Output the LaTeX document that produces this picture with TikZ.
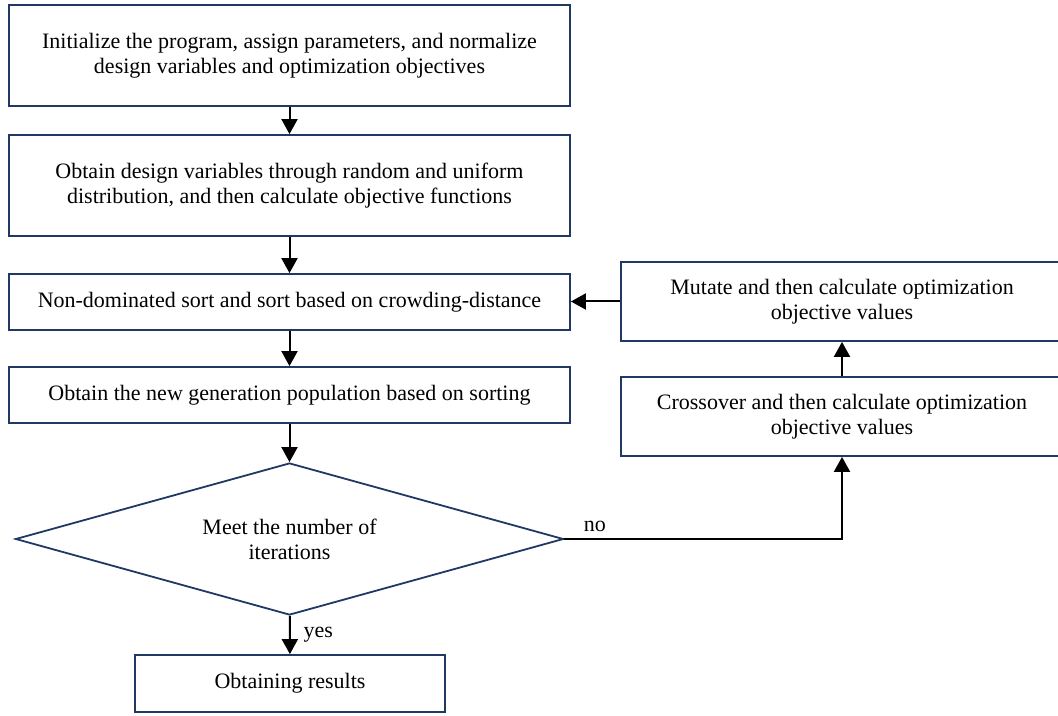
\documentclass[tikz,border=0pt]{standalone}
\usepackage{fontspec}
\setmainfont{Liberation Serif}
\usetikzlibrary{shapes.geometric,arrows.meta}

\begin{document}
\begin{tikzpicture}[x=0.5pt, y=-0.5pt, line width=0.9pt,
    box/.style={draw=boxblue, rectangle, align=center, inner sep=0pt, font=\fontsize{11}{12.5}\selectfont},
    link/.style={-{Triangle[length=7.5pt,width=8pt]}, draw=black, line width=1pt}]

    % Colours
    \definecolor{boxblue}{RGB}{31,56,100}

    \useasboundingbox (0,0) rectangle (1058,716);

    % Main column
    \node[box, minimum width=280.5pt, minimum height=50.5pt] (init) at (289.5,55.5)
        {Initialize the program, assign parameters, and normalize\\design variables and optimization objectives};
    \node[box, minimum width=280.5pt, minimum height=50.5pt] (sample) at (289.5,185.5)
        {Obtain design variables through random and uniform\\distribution, and then calculate objective functions};
    \node[box, minimum width=280.5pt, minimum height=28pt] (sort) at (289.5,302)
        {Non-dominated sort and sort based on crowding-distance};
    \node[box, minimum width=280.5pt, minimum height=28pt] (newgen) at (289.5,395)
        {Obtain the new generation population based on sorting};

    % Decision
    \node[box, diamond, aspect=3.6, minimum width=274pt, minimum height=76pt] (check) at (289.5,539)
        {Meet the number of\\iterations};

    % Result
    \node[box, minimum width=155pt, minimum height=28.5pt] (result) at (290,683.5)
        {Obtaining results};

    % Right column
    \node[box, minimum width=221pt, minimum height=39.5pt] (mutate) at (842,301.5)
        {Mutate and then calculate optimization\\objective values};
    \node[box, minimum width=221pt, minimum height=39.5pt] (cross) at (842,416.5)
        {Crossover and then calculate optimization\\objective values};

    % Connectors
    \draw[link] (init) -- (sample);
    \draw[link] (sample) -- (sort);
    \draw[link] (sort) -- (newgen);
    \draw[link] (newgen) -- (check);
    \draw[link] (check) -- node[right, xshift=3pt, font=\fontsize{11}{12.5}\selectfont] {yes} (result);
    \draw[link] (check.east) -| node[above, pos=0.055, font=\fontsize{11}{12.5}\selectfont] {no} (cross.south);
    \draw[link] (cross) -- (mutate);
    \draw[link] (mutate.west) -- (mutate.west -| sort.east);
\end{tikzpicture}
\end{document}
